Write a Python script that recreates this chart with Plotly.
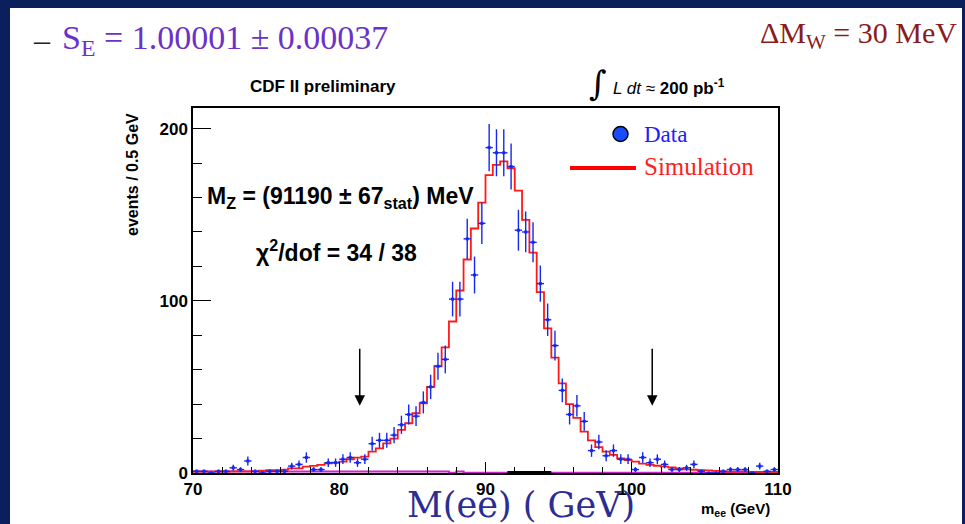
import numpy as np
import plotly.graph_objects as go

# ---- histogram binning: 0.5 GeV bins from 70 to 110 GeV ----
m_low, m_high, bin_width = 70.0, 110.0, 0.5

# observed events per 0.5 GeV bin (Z -> ee candidates)
data_counts = [
    1, 1, 0, 1, 1, 3, 2, 7, 1, 0,
    1, 1, 1, 4, 5, 9, 2, 2, 6, 6,
    8, 9, 6, 8, 17, 19, 19, 22, 28, 34,
    33, 41, 50, 62, 66, 101, 101, 136, 115, 145,
    189, 186, 186, 178, 141, 140, 134, 110, 89, 74,
    48, 34, 39, 30, 13, 18, 10, 13, 8, 8,
    2, 9, 6, 8, 5, 2, 2, 3, 5, 1,
    0, 0, 1, 2, 2, 2, 0, 4, 1, 2,
]

# simulated line shape, normalised to the data
sim_counts = [
    0.8, 0.8, 0.8, 0.8, 0.8, 0.9, 0.9, 1.0, 1.0, 1.3,
    1.7, 1.7, 2.0, 2.7, 2.7, 3.7, 4.1, 4.7, 5.6, 6.0,
    6.6, 8.0, 8.9, 9.5, 12.4, 14.3, 17.2, 20.0, 25.0, 28.9,
    34.7, 40.5, 50.0, 62.0, 73.0, 88.0, 106.0, 124.0, 142.0, 157.0,
    173.0, 179.0, 181.0, 177.0, 164.0, 147.0, 128.0, 105.0, 84.0, 67.0,
    52.0, 40.0, 32.0, 24.0, 19.0, 15.0, 12.4, 10.5, 8.5, 7.5,
    6.6, 5.5, 4.7, 4.2, 3.7, 3.2, 2.6, 2.1, 1.9, 1.7,
    1.5, 1.2, 1.0, 0.8, 1.0, 1.0, 0.6, 0.6, 0.6, 0.6,
]

# background estimate
bkg_counts = [
    0.8, 0.8, 0.8, 0.8, 0.8, 0.8, 0.8, 0.8, 0.8, 0.8,
    0.8, 0.8, 0.8, 0.8, 0.8, 0.8, 0.8, 0.8, 0.8, 0.8,
    0.8, 0.8, 0.8, 0.8, 0.8, 0.8, 0.8, 0.8, 0.8, 0.8,
    0.8, 0.8, 0.8, 0.8, 0.8, 0.2, 0.8, 0.2, 0.2, 0.2,
    0.2, 0.2, 0.2, 0.2, 0.2, 0.2, 0.2, 0.2, 0.2, 0.2,
    0.2, 0.2, 0.2, 0.2, 0.2, 0.2, 0.2, 0.2, 0.2, 0.2,
    0.2, 0.2, 0.2, 0.2, 0.2, 0.2, 0.2, 0.2, 0.2, 0.2,
    0.2, 0.2, 0.2, 0.2, 0.2, 0.2, 0.2, 0.2, 0.2, 0.2,
]

# second small background component (only a few bins populated)
qcd_edges = [91.5, 94.5]
qcd_level = [0.4, 0.4]

# fit-window markers (GeV) and arrow span (events)
window_edges = [81.4, 101.4]
arrow_span = [73, 39]

x_ticks = [70, 80, 90, 100, 110]
y_ticks = [0, 100, 200]

edges = np.arange(m_low, m_high + bin_width / 2, bin_width)
centers = edges[:-1] + bin_width / 2
data = np.array(data_counts, dtype=float)
errs = np.sqrt(data)

NAVY = "#0a1f5c"
PURPLE = "#6a32c8"
DARKRED = "#8b1c1c"
BLUE = "#1428f0"
RED = "#ff1a1a"

# plot box in pixels
L, R, T, B = 193, 778, 108, 473
W, H = R - L, B - T


def px(x):
    return (x - L) / W


def py(y):
    return (B - y) / H


fig = go.Figure()

# background histograms
fig.add_trace(go.Scatter(
    x=list(edges), y=bkg_counts + [bkg_counts[-1]], mode="lines",
    line=dict(color="#d020d0", width=2, shape="hv"), hoverinfo="skip"))
fig.add_trace(go.Scatter(
    x=qcd_edges, y=qcd_level, mode="lines",
    line=dict(color="black", width=2.5), hoverinfo="skip"))

# simulation
fig.add_trace(go.Scatter(
    x=list(edges), y=sim_counts + [sim_counts[-1]], mode="lines",
    line=dict(color=RED, width=1.8, shape="hv"), hoverinfo="skip"))

# data points with statistical errors
fig.add_trace(go.Scatter(
    x=centers, y=data, mode="markers",
    marker=dict(color=BLUE, size=3, symbol="square"),
    error_y=dict(type="data", array=errs, color=BLUE, thickness=1.4, width=0),
    error_x=dict(type="constant", value=bin_width / 2, color=BLUE, thickness=1.4, width=0),
    hoverinfo="skip"))

shapes = [
    # white slide panel
    dict(type="rect", xref="paper", yref="paper",
         x0=px(10), x1=px(962), y0=py(530), y1=py(8),
         fillcolor="white", line=dict(width=0), layer="below"),
    # legend: data marker and simulation line
    dict(type="circle", xref="paper", yref="paper",
         x0=px(613), x1=px(628), y0=py(141.5), y1=py(126.5),
         fillcolor="#1a4cff", line=dict(color="black", width=1.5)),
    dict(type="line", xref="paper", yref="paper",
         x0=px(570), x1=px(636), y0=py(168), y1=py(168),
         line=dict(color="#ff0000", width=4)),
]

annotations = []


def text(x, y, s, size, color="black", family="Liberation Sans", xanchor="left",
         yanchor="middle", angle=0):
    annotations.append(dict(
        xref="paper", yref="paper", x=px(x), y=py(y), text=s, showarrow=False,
        xanchor=xanchor, yanchor=yanchor, textangle=angle,
        font=dict(size=size, color=color, family=family)))


# slide headline texts
text(31, 40, "–", 32, color="#222222", family="Liberation Serif")
text(60, 40, "S<sub>E</sub> = 1.00001 ± 0.00037", 34, color=PURPLE, family="Liberation Serif")
text(959, 35, "ΔM<sub>W</sub> = 30 MeV", 30, color=DARKRED, family="Liberation Serif",
     xanchor="right")

# figure texts
text(323, 86, "<b>CDF II preliminary</b>", 17, xanchor="center")
text(598, 83, "∫", 34, family="DejaVu Serif", xanchor="center")
text(611, 87, "<i>L dt</i> ≈ <b>200 pb</b><sup><b>-1</b></sup>", 17)
text(132, 175, "<b>events / 0.5 GeV</b>", 16, xanchor="center", angle=-90)
text(772, 510, "<b>m<sub>ee</sub> (GeV)</b>", 15, xanchor="right")
text(521, 505, "M(ee) ( GeV)", 35, color="#2c2c94", family="DejaVu Serif",
     xanchor="center")
text(205, 197, "<b>M<sub>Z</sub> = (91190 ± 67<sub>stat</sub>) MeV</b>", 23)
text(254, 251, "<b>χ<sup>2</sup>/dof = 34 / 38</b>", 23)

# legend labels
text(642, 134, "Data", 23, color="#2020ff", family="Liberation Serif")
text(642, 166, "Simulation", 25, color="#ff2020", family="Liberation Serif")

# fit window arrows
for xw in window_edges:
    annotations.append(dict(
        x=xw, y=arrow_span[1], ax=xw, ay=arrow_span[0], xref="x", yref="y",
        axref="x", ayref="y", text="", showarrow=True, arrowhead=2,
        arrowsize=1.4, arrowwidth=1.5, arrowcolor="black"))

fig.update_layout(
    width=965, height=524,
    margin=dict(l=L, r=965 - R, t=T, b=524 - B),
    paper_bgcolor=NAVY, plot_bgcolor="rgba(0,0,0,0)",
    showlegend=False,
    shapes=shapes, annotations=annotations,
)

tickfont = dict(family="Liberation Sans", size=17, color="black", weight="bold")
fig.update_xaxes(
    range=[m_low, m_high], tickmode="array", tickvals=x_ticks,
    ticktext=[str(v) for v in x_ticks], tickfont=tickfont,
    ticks="inside", ticklen=11, tickwidth=1.2, tickcolor="black",
    minor=dict(tick0=70, dtick=2, ticks="inside", ticklen=6, tickcolor="black", tickwidth=1),
    showline=True, linecolor="black", linewidth=1.5, mirror=True,
    showgrid=False, zeroline=False,
)
fig.update_yaxes(
    range=[0, 212], tickmode="array", tickvals=y_ticks,
    ticktext=[str(v) for v in y_ticks], tickfont=tickfont,
    ticks="inside", ticklen=18, tickwidth=1.2, tickcolor="black",
    minor=dict(tick0=0, dtick=20, ticks="inside", ticklen=9, tickcolor="black", tickwidth=1),
    showline=True, linecolor="black", linewidth=1.5, mirror=True,
    showgrid=False, zeroline=False,
)

fig.write_html("out.html")
